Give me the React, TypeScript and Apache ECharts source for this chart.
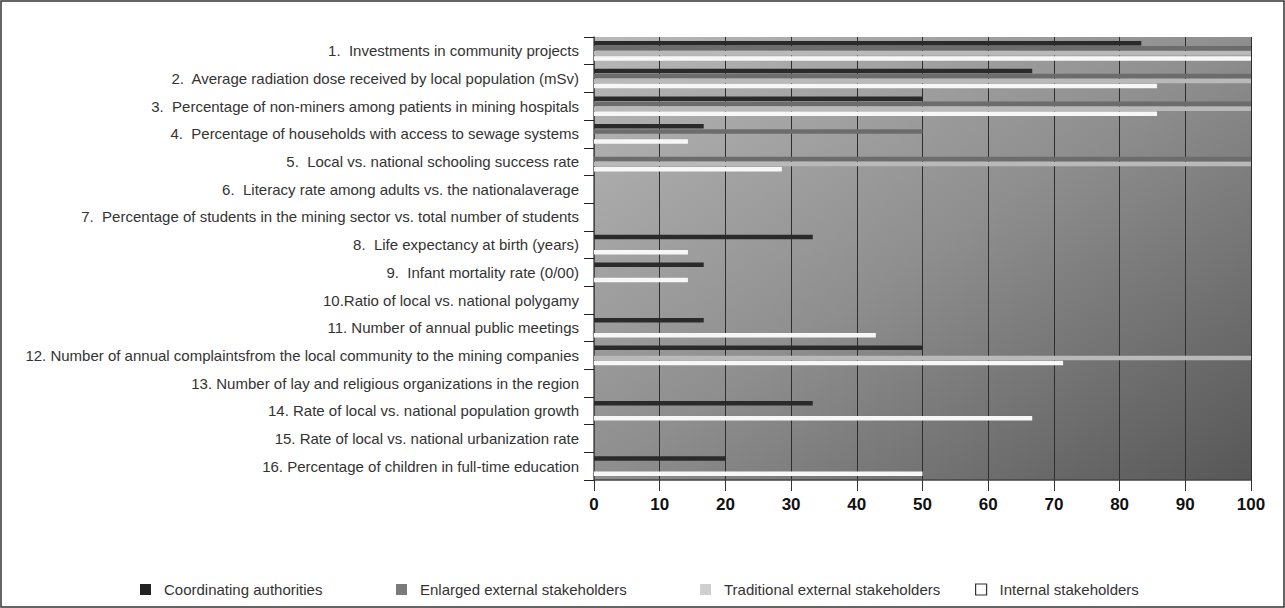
import React, { useEffect, useRef } from "react";
import * as echarts from "echarts";

const categories = [
  "1.  Investments in community projects",
  "2.  Average radiation dose received by local population (mSv)",
  "3.  Percentage of non-miners among patients in mining hospitals",
  "4.  Percentage of households with access to sewage systems",
  "5.  Local vs. national schooling success rate",
  "6.  Literacy rate among adults vs. the nationalaverage",
  "7.  Percentage of students in the mining sector vs. total number of students",
  "8.  Life expectancy at birth (years)",
  "9.  Infant mortality rate (0/00)",
  "10.Ratio of local vs. national polygamy",
  "11. Number of annual public meetings",
  "12. Number of annual complaintsfrom the local community to the mining companies",
  "13. Number of lay and religious organizations in the region",
  "14. Rate of local vs. national population growth",
  "15. Rate of local vs. national urbanization rate",
  "16. Percentage of children in full-time education",
];

const seriesNames = [
  "Coordinating authorities",
  "Enlarged external stakeholders",
  "Traditional external stakeholders",
  "Internal stakeholders",
];

const coordinating = [83.3, 66.7, 50, 16.7, 0, 0, 0, 33.3, 16.7, 0, 16.7, 50, 0, 33.3, 0, 20];
const enlarged = [100, 100, 100, 50, 100, 0, 0, 0, 0, 0, 0, 0, 0, 0, 0, 0];
const traditional = [100, 100, 100, 0, 100, 0, 0, 0, 0, 0, 0, 100, 0, 0, 0, 0];
const internal = [100, 85.7, 85.7, 14.3, 28.6, 0, 0, 14.3, 14.3, 0, 42.9, 71.4, 0, 66.7, 0, 50];

const xTicks = [0, 10, 20, 30, 40, 50, 60, 70, 80, 90, 100];

const barColors = ["#2a2a2a", "#6c6c6c", "#b9b9b9", "#f7f7f7"];
const legendColors = ["#222222", "#7a7a7a", "#cfcfcf", "#ffffff"];
const legendLefts = [140, 396, 700, 975];

export default function App() {
  const ref = useRef<HTMLDivElement>(null);

  useEffect(() => {
    if (!ref.current) return;
    const chart = echarts.init(ref.current, null, { renderer: "svg" });
    const allData = [coordinating, enlarged, traditional, internal];

    const legends = seriesNames.map((name, i) => ({
      show: true,
      left: legendLefts[i],
      top: 582,
      padding: 0,
      itemWidth: 11,
      itemHeight: 11,
      icon: "rect",
      selectedMode: false,
      data: [
        {
          name,
          itemStyle: {
            color: legendColors[i],
            borderColor: i === 3 ? "#333333" : legendColors[i],
            borderWidth: i === 3 ? 1.2 : 0,
          },
        },
      ],
      textStyle: {
        fontFamily: "Liberation Sans, Arial, sans-serif",
        fontSize: 15,
        color: "#333333",
        padding: [0, 0, 0, 8],
      },
    }));

    chart.setOption({
      animation: false,
      backgroundColor: "#ffffff",
      graphic: [
        {
          type: "rect",
          shape: { x: 1, y: 1, width: 1283, height: 606 },
          style: { fill: "none", stroke: "#333333", lineWidth: 1.5 },
          silent: true,
        },
      ],
      legend: legends,
      grid: {
        left: 594,
        right: 34,
        top: 37,
        bottom: 128,
        show: true,
        borderWidth: 0,
        backgroundColor: new echarts.graphic.LinearGradient(0, 0, 1, 1, [
          { offset: 0, color: "#b8b8b8" },
          { offset: 0.5, color: "#8e8e8e" },
          { offset: 1, color: "#575757" },
        ]),
      },
      xAxis: {
        type: "value",
        min: xTicks[0],
        max: xTicks[xTicks.length - 1],
        interval: 10,
        axisLine: { show: true, lineStyle: { color: "#444444", width: 1.5 } },
        axisTick: { show: true, length: 11, lineStyle: { color: "#333333" } },
        splitLine: { show: true, lineStyle: { color: "#2e2e2e", width: 1 } },
        axisLabel: {
          margin: 16,
          fontFamily: "Liberation Sans Narrow, Arial Narrow, sans-serif",
          fontWeight: "bold",
          fontSize: 17,
          color: "#111111",
        },
      },
      yAxis: {
        type: "category",
        inverse: true,
        data: categories,
        axisLine: { show: true, lineStyle: { color: "#555555", width: 1.5 } },
        axisTick: { show: true, length: 10, alignWithLabel: false, lineStyle: { color: "#222222" } },
        splitLine: { show: false },
        axisLabel: {
          margin: 15,
          fontFamily: "Liberation Sans, Arial, sans-serif",
          fontSize: 15,
          color: "#333333",
          padding: [3, 0, 0, 0],
        },
      },
      series: seriesNames.map((name, i) => ({
        name,
        type: "bar",
        data: allData[i],
        barWidth: 4.5,
        barGap: "12%",
        itemStyle: { color: barColors[i] },
        emphasis: { disabled: true },
      })),
    });

    return () => chart.dispose();
  }, []);

  return (
    <div
      ref={ref}
      style={{ position: "fixed", left: 0, top: 0, width: 1285, height: 608, background: "#fff" }}
    />
  );
}
